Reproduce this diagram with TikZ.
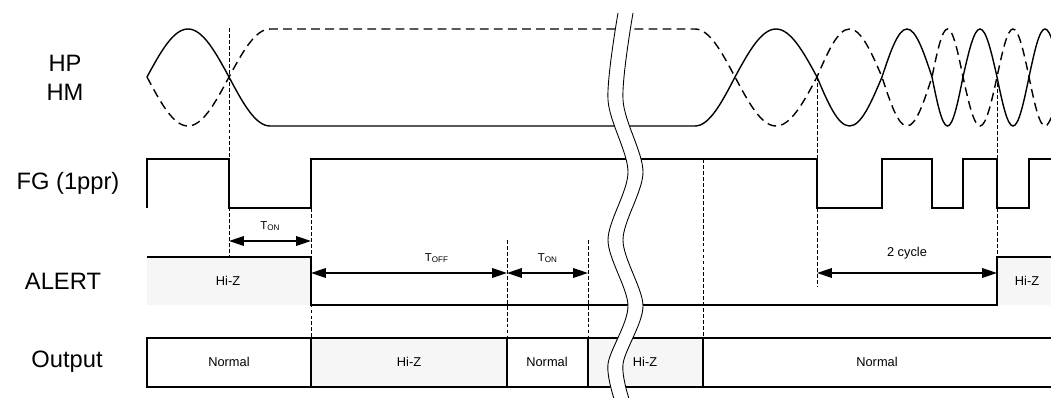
\documentclass[tikz,border=0pt]{standalone}
\usepackage{fontspec}
\setmainfont{Liberation Sans}
\usetikzlibrary{arrows.meta}

\definecolor{hizgray}{RGB}{246,246,246}
\newcommand{\tsig}[1]{T\raisebox{-0.2ex}{\fontsize{4.6}{5}\selectfont #1}}

\tikzset{
	wave/.style={line width=0.8pt},
	wavedash/.style={line width=0.8pt, dash pattern=on 5pt off 3pt},
	guide/.style={line width=0.4pt, dash pattern=on 2.2pt off 1.2pt},
	dimarrow/.style={line width=0.75pt, {Triangle[length=8.5pt,width=5.5pt]}-{Triangle[length=8.5pt,width=5.5pt]}},
	siglabel/.style={font=\fontsize{13.5}{16}\selectfont},
	boxtext/.style={font=\fontsize{7.3}{9}\selectfont},
	tlabel/.style={font=\fontsize{6.5}{8}\selectfont, inner sep=0pt}
}

\begin{document}
\begin{tikzpicture}[x=0.02cm, y=-0.02cm]

	\useasboundingbox (0,0) rectangle (1051,398);
	\clip (0,0) rectangle (1051,398);

% Instantes
	\coordinate (t1) at (229,0);
	\coordinate (t2) at (311,0);
	\coordinate (t3) at (507,0);
	\coordinate (t4) at (588,0);
	\coordinate (t6) at (817,0);
	\coordinate (t7) at (997,0);
	\coordinate (rowon) at (0,241);
	\coordinate (rowdim) at (0,273);

% Nombres de las senales
	\node[siglabel] (hp) at (65,63) {HP};
	\node[siglabel] (hm) at (65,92) {HM};
	\node[siglabel] (fg) at (68,183) {FG (1ppr)};
	\node[siglabel] (alert) at (63,281) {ALERT};
	\node[siglabel] (output) at (67,362) {Output};

% HP / HM
	\draw[wave] (147,77) sin (188,29) cos (229,77) sin (270,126) -- (695,126) cos (735,77)
		sin (776,29) cos (817,77) sin (849.5,126) cos (882,77) sin (907,29) cos (932,77)
		sin (947.5,126) cos (963,77) sin (980,29) cos (997,77) sin (1013,126) cos (1029,77)
		sin (1045,29) cos (1061,77);
	\draw[wavedash] (147,77) sin (188,126) cos (229,77) sin (270,29) -- (695,29) cos (735,77)
		sin (776,126) cos (817,77) sin (849.5,29) cos (882,77) sin (907,126) cos (932,77)
		sin (947.5,29) cos (963,77) sin (980,126) cos (997,77) sin (1013,29) cos (1029,77)
		sin (1045,126) cos (1061,77);

% FG
	\draw[wave] (147,208) -- (147,159) -- (229,159) -- (229,208) -- (311,208) -- (311,159)
		-- (817,159) -- (817,208) -- (882,208) -- (882,159) -- (932,159) -- (932,208)
		-- (963,208) -- (963,159) -- (997,159) -- (997,208) -- (1029,208) -- (1029,159) -- (1051,159);

% ALERT
	\fill[hizgray] (147,257) rectangle (311,305);
	\fill[hizgray] (997,257) rectangle (1051,305);
	\draw[wave] (147,257) -- (311,257) -- (311,305) -- (997,305) -- (997,257) -- (1051,257);
	\node[boxtext] (alerthiz1) at (228,281) {Hi-Z};
	\node[boxtext] (alerthiz2) at (1027,281) {Hi-Z};

% Output
	\foreach \a/\b/\f in {147/311/white, 311/507/hizgray, 507/588/white, 588/703/hizgray}
		\draw[fill=\f, line width=0.6pt] (\a,338) rectangle (\b,387);
	\draw[line width=0.6pt] (1051,338) -- (703,338) -- (703,387) -- (1051,387);
	\node[boxtext] (out1) at (229,362) {Normal};
	\node[boxtext] (out2) at (409,362) {Hi-Z};
	\node[boxtext] (out3) at (547,362) {Normal};
	\node[boxtext] (out4) at (645,362) {Hi-Z};
	\node[boxtext] (out5) at (877,362) {Normal};

% Lineas de referencia
	\foreach \x/\a/\b in {229/28/257, 311/208/338, 507/240/338, 588/240/338, 703/159/338, 817/77/287, 997/77/257}
		\draw[guide] (\x,\a) -- (\x,\b);

% Tiempos
	\draw[dimarrow] (t1 |- rowon) -- node[above=5.5pt, tlabel] (ton1) {\tsig{ON}} (t2 |- rowon);
	\draw[dimarrow] (t2 |- rowdim) -- node[pos=.64, above=5.5pt, tlabel] (toff) {\tsig{OFF}} (t3 |- rowdim);
	\draw[dimarrow] (t3 |- rowdim) -- node[above=5.5pt, tlabel] (ton2) {\tsig{ON}} (t4 |- rowdim);
	\draw[dimarrow] (t6 |- rowdim) -- node[above=7.5pt, boxtext, inner sep=0pt] (cycles) {2 cycle} (t7 |- rowdim);

% Corte
	\fill[white] plot[smooth] coordinates {(618,13) (608,100) (628,172) (608,240) (628,306) (608,364) (616,405)}
		-- plot[smooth] coordinates {(631,405) (623,364) (643,306) (623,240) (643,172) (623,100) (633,13)} -- cycle;
	\foreach \dx in {0,15}
		\draw[line width=0.5pt, shift={(\dx,0)}] plot[smooth] coordinates {(618,13) (608,100) (628,172) (608,240) (628,306) (608,364) (616,405)};

\end{tikzpicture}
\end{document}
